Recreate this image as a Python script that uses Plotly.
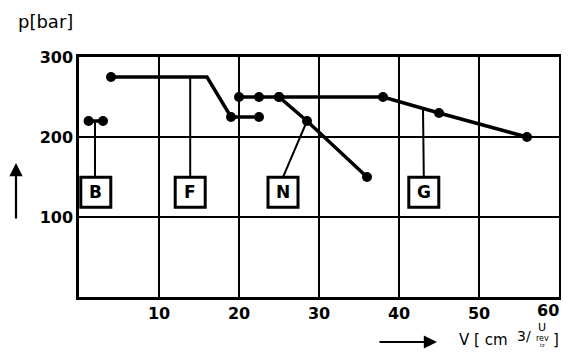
import plotly.graph_objects as go

# data
B_x = [1.2, 3.0]
B_y = [220, 220]
F_x = [4.0, 16.0, 19.0, 22.5]
F_y = [275, 275, 225, 225]
F_mx = [4.0, 19.0, 22.5]
F_my = [275, 225, 225]
N_x = [20.0, 22.5, 25.0, 28.5, 36.0]
N_y = [250, 250, 250, 220, 150]
G_x = [25.0, 38.0, 45.0, 56.0]
G_y = [250, 250, 230, 200]

label_names = ["B", "F", "N", "G"]
label_x = [2.1, 13.9, 25.5, 43.1]
label_y = 131
# callout anchor on curves (x, y)
anchor_x = [2.0, 13.9, 28.5, 43.0]
anchor_y = [220, 275, 220, 235.7]

x_ticks = [10, 20, 30, 40, 50, 60]
y_ticks = [100, 200, 300]

# page body has an 8px margin; compensate so the figure fits the body box
OFF = 8
W, H = 569 - 2 * OFF, 358 - 2 * OFF
L, T = 79 - OFF, 57 - OFF
PW, PH = 480, 240
R = W - L - PW
Bm = H - T - PH

def px(xr):  # reference pixel x -> paper
    return (xr - OFF - L) / PW

def py(yr):  # reference pixel y -> paper
    return (T + PH - (yr - OFF)) / PH

FONT = "DejaVu Sans"
fig = go.Figure()

def add_line(xs, ys):
    fig.add_trace(go.Scatter(x=xs, y=ys, mode="lines",
                             line=dict(color="black", width=3.5),
                             showlegend=False, hoverinfo="skip"))

def add_markers(xs, ys):
    fig.add_trace(go.Scatter(x=xs, y=ys, mode="markers",
                             marker=dict(color="black", size=10, line=dict(width=0)),
                             showlegend=False, hoverinfo="skip"))

for xs, ys in [(B_x, B_y), (F_x, F_y), (G_x, G_y), (N_x, N_y)]:
    add_line(xs, ys)
for xs, ys in [(B_x, B_y), (F_mx, F_my), (G_x, G_y), (N_x, N_y)]:
    add_markers(xs, ys)

# box half size in data units (15 px)
hw = 15 / PW * 60
hh = 15 / PH * 300
shapes = []
for name, lx, ax, ay in zip(label_names, label_x, anchor_x, anchor_y):
    shapes.append(dict(type="line", xref="x", yref="y", x0=lx if name != "B" else ax,
                       y0=label_y + hh, x1=ax, y1=ay,
                       line=dict(color="black", width=2)))
    shapes.append(dict(type="rect", xref="x", yref="y",
                       x0=lx - hw, x1=lx + hw, y0=label_y - hh, y1=label_y + hh,
                       line=dict(color="black", width=3), fillcolor="white", layer="above"))

annotations = []
for name, lx in zip(label_names, label_x):
    annotations.append(dict(x=lx, y=label_y, xref="x", yref="y", text="<b>%s</b>" % name,
                            showarrow=False,
                            font=dict(family=FONT, size=17, color="black")))

# last x tick label sits at the right edge of the picture: right-align it
tick_text = ["<b>%d</b>" % v for v in x_ticks]
last_label = tick_text[-1]
tick_text[-1] = ""
annotations.append(dict(x=1, y=0, xref="paper", yref="paper", text=last_label,
                        showarrow=False, xanchor="right", yanchor="top", xshift=R, yshift=-2,
                        font=dict(family=FONT, size=16, color="black")))

# y axis title and arrow
annotations.append(dict(x=px(16), y=py(21), xref="paper", yref="paper", text="p[bar]",
                        showarrow=False, xanchor="left", yanchor="middle",
                        font=dict(family=FONT, size=18, color="black")))
annotations.append(dict(x=px(16), y=py(163), ax=0, ay=57, xref="paper", yref="paper",
                        text="", showarrow=True,
                        arrowhead=2, arrowsize=1.2, arrowwidth=2.2, arrowcolor="black"))
# x arrow
annotations.append(dict(x=px(437), y=py(342), ax=-59, ay=0, xref="paper", yref="paper",
                        text="", showarrow=True,
                        arrowhead=2, arrowsize=1.2, arrowwidth=2.2, arrowcolor="black"))
# x axis title pieces
annotations.append(dict(x=px(457), y=py(340), xref="paper", yref="paper", text="V [ cm",
                        showarrow=False, xanchor="left", yanchor="middle",
                        font=dict(family=FONT, size=15, color="black")))
annotations.append(dict(x=px(515), y=py(336), xref="paper", yref="paper", text="3/",
                        showarrow=False, xanchor="left", yanchor="middle",
                        font=dict(family=FONT, size=14, color="black")))
annotations.append(dict(x=px(542), y=py(327), xref="paper", yref="paper", text="U",
                        showarrow=False, xanchor="center", yanchor="middle",
                        font=dict(family=FONT, size=11, color="black")))
annotations.append(dict(x=px(542), y=py(338), xref="paper", yref="paper", text="rev",
                        showarrow=False, xanchor="center", yanchor="middle",
                        font=dict(family=FONT, size=8, color="black")))
annotations.append(dict(x=px(542), y=py(345), xref="paper", yref="paper", text="tz",
                        showarrow=False, xanchor="center", yanchor="middle",
                        font=dict(family=FONT, size=5, color="black")))
annotations.append(dict(x=px(551), y=py(340), xref="paper", yref="paper", text="]",
                        showarrow=False, xanchor="left", yanchor="middle",
                        font=dict(family=FONT, size=15, color="black")))

fig.update_layout(
    template="none",
    width=W, height=H, margin=dict(l=L, r=R, t=T, b=Bm, autoexpand=False),
    paper_bgcolor="white", plot_bgcolor="white",
    shapes=shapes, annotations=annotations,
    xaxis=dict(range=[0, 60], tickvals=x_ticks, ticktext=tick_text,
               showgrid=True, gridcolor="black", gridwidth=2, zeroline=False,
               showline=True, linecolor="black", linewidth=2.5, mirror=True,
               ticks="", automargin=False, ticklabeloverflow="allow",
               tickfont=dict(family=FONT, size=16, color="black")),
    yaxis=dict(range=[0, 300], tickvals=y_ticks, ticktext=["<b>%d</b>" % v for v in y_ticks],
               showgrid=True, gridcolor="black", gridwidth=2, zeroline=False,
               showline=True, linecolor="black", linewidth=2.5, mirror=True,
               ticks="", automargin=False, ticklabeloverflow="allow",
               tickfont=dict(family=FONT, size=16, color="black")),
)

fig.write_html("out.html")
